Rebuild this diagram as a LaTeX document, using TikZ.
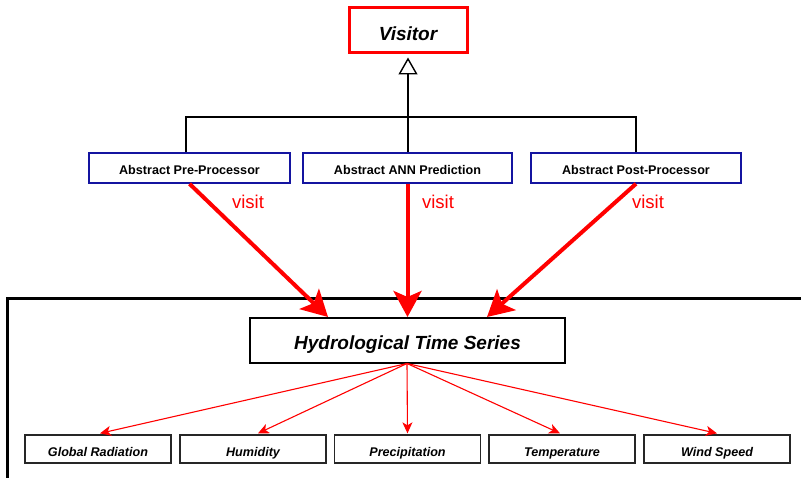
\documentclass[tikz,border=0pt]{standalone}
\usepackage{fontspec}
\setmainfont{Liberation Sans}
\usetikzlibrary{arrows.meta,calc}

\definecolor{navy}{RGB}{20,20,160}
\definecolor{vred}{RGB}{255,0,0}

\tikzset{
  classbox/.style={draw=black, line width=1.4pt, inner sep=0pt, fill=white},
  visitorbox/.style={draw=vred, line width=3pt, inner sep=0pt,
    text height=21pt, text depth=0pt,
    font=\fontsize{19}{22}\selectfont\bfseries\itshape},
  abstractbox/.style={draw=navy, line width=1.6pt, inner sep=0pt,
    text height=12.5pt, text depth=0pt,
    minimum width=201pt, minimum height=30pt,
    font=\fontsize{12.6}{15}\selectfont\bfseries},
  seriesbox/.style={classbox, line width=2pt, minimum width=315pt, minimum height=45pt,
    text height=18.6pt, text depth=0pt,
    font=\fontsize{19}{22}\selectfont\bfseries\itshape},
  databox/.style={classbox, line width=1.3pt, draw=black!85, minimum width=146pt, minimum height=28pt,
    text height=14.5pt, text depth=0pt,
    font=\fontsize{12.6}{15}\selectfont\bfseries\itshape},
  visitlabel/.style={text=vred, font=\fontsize{18.5}{22}\selectfont},
  inherit/.style={draw=black, line width=1.4pt},
  visitarrow/.style={draw=vred, line width=4pt,
    -{Stealth[length=26pt,width=28pt,inset=6pt]}},
  partarrow/.style={draw=vred, line width=1.1pt,
    -{Stealth[length=11pt,width=10pt,inset=3pt]}},
}

\begin{document}
\begin{tikzpicture}[x=1pt,y=-1pt]
  \useasboundingbox (0,0) rectangle (801,478);

  % visitor interface
  \node[visitorbox, minimum width=118pt, minimum height=45pt] (vis) at (408,30.5) {Visitor};

  % abstract visitors
  \node[abstractbox] (pre)  at (189.5,168) {Abstract Pre-Processor};
  \node[abstractbox, minimum width=209pt] (ann)  at (407.5,168) {Abstract ANN Prediction};
  \node[abstractbox, minimum width=210pt] (post) at (636,168) {Abstract Post-Processor};

  % inheritance tree
  \coordinate (bar) at (408,117);
  \coordinate (annTop) at (vis.south |- ann.north);
  \draw[inherit] ($(pre.north)+(-3.5,0)$) |- (bar) -| (post.north);
  \draw[inherit, -{Triangle[open,length=17pt,width=19pt,line width=1.4pt]}]
    (annTop) -- ($(vis.south)+(0,3)$);

  % package frame
  \draw[line width=2.4pt] (801,298.5) -- (7.5,298.5) -- (7.5,478);

  % composite time series
  \node[seriesbox] (hy) at (407.5,340.5) {Hydrological Time Series};

  % individual series
  \node[databox] (gr) at (98,449) {Global Radiation};
  \node[databox] (hu) at (253,449) {Humidity};
  \node[databox] (pr) at (407.5,449) {Precipitation};
  \node[databox] (te) at (562,449) {Temperature};
  \node[databox] (ws) at (717,449) {Wind Speed};

  % visit relations
  \coordinate (hyL) at ($(hy.north)+(-79.5,0)$);
  \coordinate (hyR) at ($(hy.north)+(79.5,0)$);
  \draw[visitarrow] (pre.south) -- (hyL);
  \draw[visitarrow] (ann.south) -- (hy.north);
  \draw[visitarrow] (post.south) -- (hyR);

  \node[visitlabel] (v1) at (248,202) {visit};
  \node[visitlabel] (v2) at (438,202) {visit};
  \node[visitlabel] (v3) at (648,202) {visit};

  % composition fan
  \coordinate (fan) at (407,363.5);
  \draw[partarrow] (fan) -- ($(gr.north)+(2,-1)$);
  \draw[partarrow] (fan) -- ($(hu.north)+(5,-1)$);
  \draw[partarrow] (fan) -- ($(pr.north)+(0,-1)$);
  \draw[partarrow] (fan) -- ($(te.north)+(-2,-1)$);
  \draw[partarrow] (fan) -- ($(ws.north)+(0,-1)$);
\end{tikzpicture}
\end{document}
